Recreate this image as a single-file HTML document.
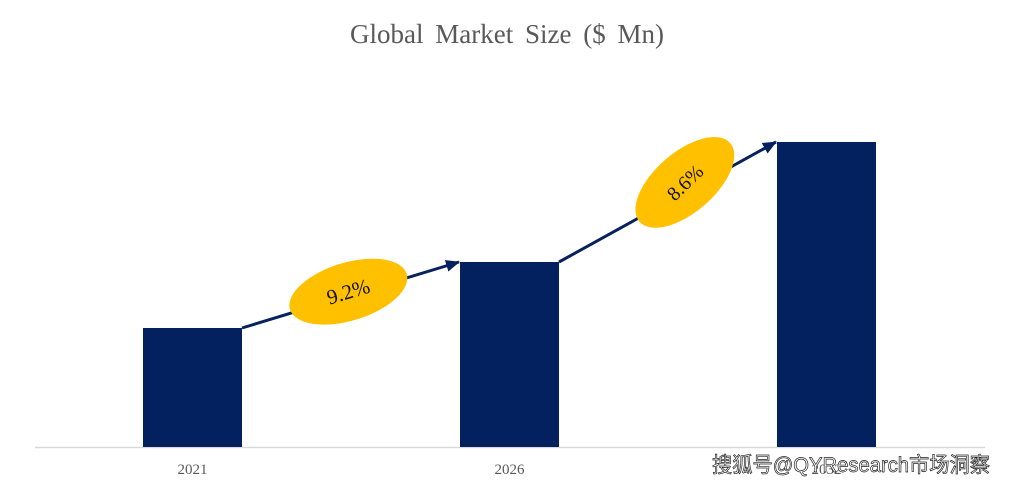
<!DOCTYPE html>
<html><head><meta charset="utf-8"><style>
body{margin:0;background:#fff;}
svg{display:block;}
</style></head><body>
<svg width="1015" height="485" viewBox="0 0 1015 485">
<defs><marker id="ah" markerWidth="14" markerHeight="12" refX="13" refY="6" orient="auto" markerUnits="userSpaceOnUse" viewBox="0 0 14 12"><path d="M0,0 L14,6 L0,12 z" fill="#06215c"/></marker></defs>
<text x="507" y="43" text-anchor="middle" font-family="Liberation Serif, serif" font-size="27" word-spacing="5" fill="#595959">Global Market Size ($ Mn)</text>
<line x1="35" y1="447.5" x2="985" y2="447.5" stroke="#d9d9d9" stroke-width="1.5"/>
<g id="bars"></g>
<g id="labels"></g>
<g id="growth"></g>
<text x="990" y="472" text-anchor="end" textLength="278" lengthAdjust="spacingAndGlyphs" font-family="Liberation Sans, 'Noto Sans CJK SC', sans-serif" font-size="21" fill="#fff" stroke="#222" stroke-width="0.7">搜狐号@QYResearch市场洞察</text>
</svg>
<script>
const categories=["2021","2026","2032"];
const values=[119,185,305];
const growthLabels=["9.2%","8.6%"];
const ns="http://www.w3.org/2000/svg";
const baseY=447, yScale=1.0;
function x(i){return 143+i*317;}
const barW=99;
function y(v){return baseY-v*yScale;}
const bars=document.getElementById('bars'),labels=document.getElementById('labels'),growth=document.getElementById('growth');
categories.forEach((c,i)=>{
 const r=document.createElementNS(ns,'rect');
 r.setAttribute('x',x(i));r.setAttribute('y',y(values[i]));r.setAttribute('width',barW);r.setAttribute('height',baseY-y(values[i]));r.setAttribute('fill','#03215e');
 
 
 bars.appendChild(r);
 const t=document.createElementNS(ns,'text');
 t.setAttribute('x',x(i)+barW/2);t.setAttribute('y',474);t.setAttribute('text-anchor','middle');t.setAttribute('font-family','Liberation Serif, serif');t.setAttribute('font-size','15');t.setAttribute('fill','#595959');t.textContent=c;
 
 
 labels.appendChild(t);
});
growthLabels.forEach((g,i)=>{
 const x1=x(i)+barW,y1=y(values[i]),x2=x(i+1)-1,y2=y(values[i+1]);
 const l=document.createElementNS(ns,'line');
 l.setAttribute('x1',x1);l.setAttribute('y1',y1);l.setAttribute('x2',x2);l.setAttribute('y2',y2);l.setAttribute('stroke','#06215c');l.setAttribute('stroke-width','3');l.setAttribute('marker-end','url(#ah)');
 
 
 growth.appendChild(l);
 const t0=i==0?0.49:0.58;
 const cx=x1+(x2-x1)*t0,cy=y1+(y2-y1)*t0-(i==0?4:10);
 const ang=Math.atan2(y2-y1,x2-x1)*180/Math.PI;
 const e=document.createElementNS(ns,'ellipse');
 e.setAttribute('cx',cx);e.setAttribute('cy',cy);e.setAttribute('rx',i==0?61:60);e.setAttribute('ry',i==0?29:30);e.setAttribute('fill','#ffc000');
 e.setAttribute('transform','rotate('+(i==0?ang:ang-12)+' '+cx+' '+cy+')');
 
 
 growth.appendChild(e);
 const t=document.createElementNS(ns,'text');
 t.setAttribute('x',cx);t.setAttribute('y',cy+7);t.setAttribute('text-anchor','middle');t.setAttribute('font-family','Liberation Serif, serif');t.setAttribute('font-size',i==0?'21':'20');t.setAttribute('fill','#111');
 t.setAttribute('transform','rotate('+(i==0?ang:ang-15)+' '+cx+' '+cy+')');
 t.textContent=g;
 
 
 growth.appendChild(t);
});
</script>
</body></html>
